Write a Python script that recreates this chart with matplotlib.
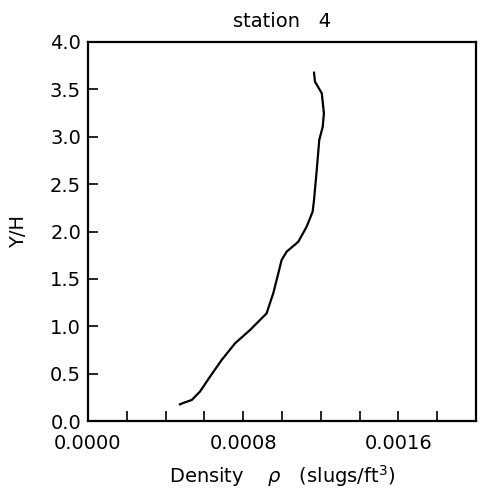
import numpy as np
import matplotlib
matplotlib.use("Agg")
import matplotlib.pyplot as plt

# density profile (bottom to top)
density = [0.000474, 0.000500, 0.000535, 0.000577, 0.000629, 0.000689, 0.000758,
           0.000835, 0.000921, 0.000929, 0.000955, 0.000981, 0.000998, 0.001024,
           0.001084, 0.001127, 0.001158, 0.001165, 0.001179, 0.001192, 0.001210,
           0.001216, 0.001205, 0.001170, 0.001165]
y_over_h = [0.176, 0.197, 0.222, 0.310, 0.468, 0.644, 0.820,
            0.960, 1.137, 1.189, 1.348, 1.559, 1.699, 1.787,
            1.892, 2.051, 2.209, 2.332, 2.649, 2.966, 3.106,
            3.248, 3.459, 3.581, 3.676]

x_ticks = [0.0, 0.0002, 0.0004, 0.0006, 0.0008, 0.0010, 0.0012, 0.0014, 0.0016, 0.0018, 0.0020]
x_tick_labels = ["0.0000", "", "", "", "0.0008", "", "", "", "0.0016", "", ""]
y_ticks = [0.0, 0.5, 1.0, 1.5, 2.0, 2.5, 3.0, 3.5, 4.0]
y_tick_labels = ["0.0", "0.5", "1.0", "1.5", "2.0", "2.5", "3.0", "3.5", "4.0"]

fig = plt.figure(figsize=(4.84, 4.97), dpi=100)
ax = fig.add_axes([0.1818, 0.1529, 0.8017, 0.7626])

ax.plot(density, y_over_h, color="black", linewidth=1.6)

ax.set_xlim(0, 0.002)
ax.set_ylim(0, 4.0)
ax.set_xticks(x_ticks)
ax.set_xticklabels(x_tick_labels)
ax.set_yticks(y_ticks)
ax.set_yticklabels(y_tick_labels)
ax.tick_params(direction="in", length=7, width=1.2, labelsize=14)
ax.tick_params(axis="x", pad=9)
ax.tick_params(axis="y", pad=5)

for s in ax.spines.values():
    s.set_linewidth(1.6)

ax.set_title("station   4", fontsize=14, pad=10.5)
ax.set_xlabel(r"Density    $\rho$   (slugs/ft$^3$)", fontsize=14)
ax.xaxis.set_label_coords(0.5, -0.112)
ax.set_ylabel("Y/H", fontsize=14)
ax.yaxis.set_label_coords(-0.155, 0.5)

fig.savefig("out.png", dpi=100)
